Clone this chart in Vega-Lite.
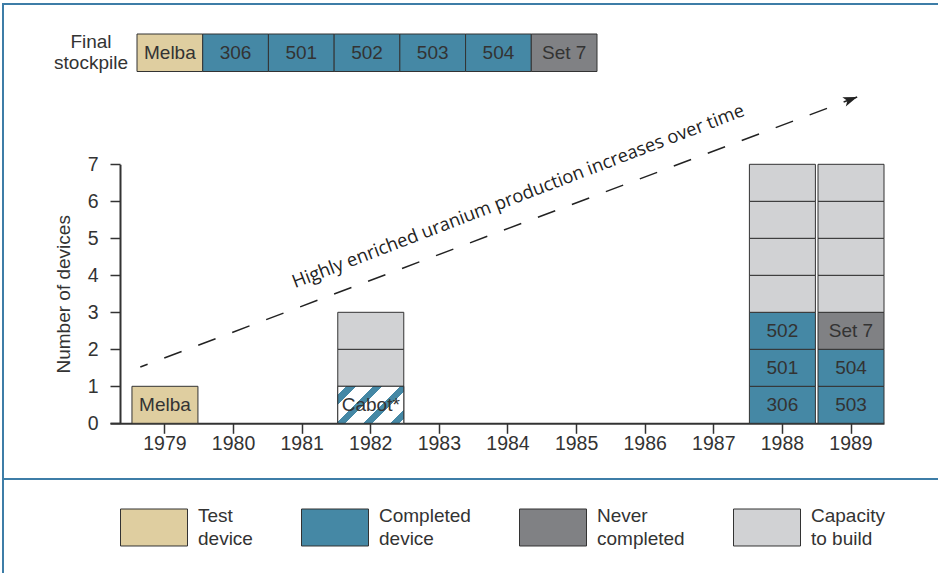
{
  "$schema": "https://vega.github.io/schema/vega-lite/v6.json",
  "width": 937,
  "height": 571,
  "autosize": {"type": "none"},
  "padding": {"left": 3, "top": 4, "right": -2, "bottom": -2},
  "background": "white",
  "config": {
    "view": {"stroke": "#3d7da7", "strokeWidth": 2},
    "axis": {"grid": false},
    "style": {"guide-label": {"lineHeight": 23}},
    "text": {"font": "Liberation Sans"}
  },
  "resolve": {"scale": {"x": "independent", "y": "independent"}},
  "layer": [
    {
      "data": {
        "values": [
          {"year": "1979", "seg": 1, "cat": "Test device", "label": "Melba"},
          {"year": "1982", "seg": 1, "cat": "Cabot", "label": "Cabot*"},
          {"year": "1982", "seg": 2, "cat": "Capacity to build", "label": ""},
          {"year": "1982", "seg": 3, "cat": "Capacity to build", "label": ""},
          {"year": "1988", "seg": 1, "cat": "Completed device", "label": "306"},
          {"year": "1988", "seg": 2, "cat": "Completed device", "label": "501"},
          {"year": "1988", "seg": 3, "cat": "Completed device", "label": "502"},
          {"year": "1988", "seg": 4, "cat": "Capacity to build", "label": ""},
          {"year": "1988", "seg": 5, "cat": "Capacity to build", "label": ""},
          {"year": "1988", "seg": 6, "cat": "Capacity to build", "label": ""},
          {"year": "1988", "seg": 7, "cat": "Capacity to build", "label": ""},
          {"year": "1989", "seg": 1, "cat": "Completed device", "label": "503"},
          {"year": "1989", "seg": 2, "cat": "Completed device", "label": "504"},
          {"year": "1989", "seg": 3, "cat": "Never completed", "label": "Set 7"},
          {"year": "1989", "seg": 4, "cat": "Capacity to build", "label": ""},
          {"year": "1989", "seg": 5, "cat": "Capacity to build", "label": ""},
          {"year": "1989", "seg": 6, "cat": "Capacity to build", "label": ""},
          {"year": "1989", "seg": 7, "cat": "Capacity to build", "label": ""}
        ]
      },
      "encoding": {
        "x": {
          "field": "year",
          "type": "ordinal",
          "scale": {
            "domain": ["1979", "1980", "1981", "1982", "1983", "1984", "1985", "1986", "1987", "1988", "1989"],
            "range": [107, 881],
            "paddingInner": 0.038,
            "paddingOuter": 0.16,
            "align": 1
          },
          "axis": {
            "orient": "bottom",
            "offset": -151.7,
            "title": null,
            "labelAngle": 0,
            "labelFont": "Liberation Sans",
            "labelFontSize": 19.5,
            "labelColor": "#333333",
            "labelPadding": 1,
            "tickSize": 10,
            "tickColor": "#333333",
            "tickWidth": 1.5,
            "domainColor": "#333333",
            "domainWidth": 2
          }
        },
        "y": {
          "aggregate": "count",
          "type": "quantitative",
          "stack": "zero",
          "scale": {"domain": [0, 7], "range": [419.3, 160.3], "nice": false, "zero": false},
          "axis": {
            "orient": "left",
            "offset": -117,
            "values": [0, 1, 2, 3, 4, 5, 6, 7],
            "title": "Number of devices",
            "titleFont": "Liberation Sans",
            "titleFontSize": 19,
            "titleFontWeight": "normal",
            "titleColor": "#333333",
            "titlePadding": 14,
            "labelFont": "Liberation Sans",
            "labelFontSize": 19.5,
            "labelColor": "#333333",
            "labelPadding": 12,
            "tickSize": 10,
            "tickColor": "#333333",
            "tickWidth": 1.5,
            "domainColor": "#333333",
            "domainWidth": 2
          }
        },
        "detail": {"field": "seg"},
        "order": {"field": "seg", "type": "quantitative"}
      },
      "layer": [
        {
          "mark": {"type": "bar", "stroke": "#333333", "strokeWidth": 1},
          "encoding": {
            "color": {
              "field": "cat",
              "type": "nominal",
              "scale": {
                "domain": ["Test device", "Completed device", "Never completed", "Capacity to build", "Cabot"],
                "range": ["#dfcea0", "#4588a5", "#808184", "#d1d2d4", "#ffffff"]
              },
              "legend": {
                "orient": "none",
                "legendX": 117,
                "legendY": 489.5,
                "direction": "horizontal",
                "title": null,
                "padding": 0,
                "values": ["Test device", "Completed device", "Never completed", "Capacity to build"],
                "symbolType": "M-1,-0.552L1,-0.552L1,0.552L-1,0.552Z",
                "symbolSize": 4489,
                "symbolStrokeColor": "#333333",
                "symbolStrokeWidth": 1,
                "symbolOpacity": 1,
                "labelFont": "Liberation Sans",
                "labelFontSize": 19,
                "labelColor": "#333333",
                "labelOffset": 10,
                "labelLimit": 0,
                "labelBaseline": "line-bottom",
                "columnPadding": 46,
                "labelExpr": "[slice(datum.label, 0, indexof(datum.label, ' ')), slice(datum.label, indexof(datum.label, ' ') + 1)]"
              }
            }
          }
        },
        {
          "transform": [{"filter": "datum.cat === 'Cabot'"}],
          "mark": {
            "type": "bar",
            "stroke": "#333333",
            "strokeWidth": 1,
            "fill": {
              "gradient": "linear",
              "x1": 0, "y1": 0, "x2": 1.188, "y2": 0.665,
              "stops": [
                {"offset": 0, "color": "#ffffff"},
                {"offset": 0.085, "color": "#ffffff"},
                {"offset": 0.085, "color": "#4588a5"},
                {"offset": 0.175, "color": "#4588a5"},
                {"offset": 0.175, "color": "#ffffff"},
                {"offset": 0.345, "color": "#ffffff"},
                {"offset": 0.345, "color": "#4588a5"},
                {"offset": 0.435, "color": "#4588a5"},
                {"offset": 0.435, "color": "#ffffff"},
                {"offset": 0.605, "color": "#ffffff"},
                {"offset": 0.605, "color": "#4588a5"},
                {"offset": 0.695, "color": "#4588a5"},
                {"offset": 0.695, "color": "#ffffff"},
                {"offset": 0.865, "color": "#ffffff"},
                {"offset": 0.865, "color": "#4588a5"},
                {"offset": 0.955, "color": "#4588a5"},
                {"offset": 0.955, "color": "#ffffff"},
                {"offset": 1, "color": "#ffffff"}
              ]
            }
          }
        },
        {
          "mark": {"type": "text", "font": "Liberation Sans", "fontSize": 19, "color": "#333333", "baseline": "middle", "dy": 18.5},
          "encoding": {"text": {"field": "label"}}
        }
      ]
    },
    {
      "data": {
        "values": [
          {"name": "Melba", "cat": "Test device", "row": "Final stockpile"},
          {"name": "306", "cat": "Completed device", "row": "Final stockpile"},
          {"name": "501", "cat": "Completed device", "row": "Final stockpile"},
          {"name": "502", "cat": "Completed device", "row": "Final stockpile"},
          {"name": "503", "cat": "Completed device", "row": "Final stockpile"},
          {"name": "504", "cat": "Completed device", "row": "Final stockpile"},
          {"name": "Set 7", "cat": "Never completed", "row": "Final stockpile"}
        ]
      },
      "encoding": {
        "x": {
          "field": "name",
          "type": "nominal",
          "scale": {"domain": ["Melba", "306", "501", "502", "503", "504", "Set 7"], "range": [134, 594], "paddingInner": 0, "paddingOuter": 0},
          "axis": null
        },
        "y": {
          "field": "row",
          "type": "nominal",
          "scale": {"range": [30, 67.5], "paddingInner": 0, "paddingOuter": 0},
          "axis": {
            "orient": "left",
            "offset": -134,
            "title": null,
            "domain": false,
            "ticks": false,
            "tickSize": 0,
            "labelPadding": 46.5,
            "labelAlign": "center",
            "labelBaseline": "middle",
            "labelOffset": -11,
            "labelFont": "Liberation Sans",
            "labelFontSize": 19,
            "labelColor": "#333333",
            "labelLineHeight": 21.7,
            "labelExpr": "split(datum.label, ' ')"
          }
        }
      },
      "layer": [
        {
          "mark": {"type": "bar", "stroke": "#333333", "strokeWidth": 1},
          "encoding": {
            "color": {
              "field": "cat",
              "type": "nominal",
              "scale": {
                "domain": ["Test device", "Completed device", "Never completed", "Capacity to build", "Cabot"],
                "range": ["#dfcea0", "#4588a5", "#808184", "#d1d2d4", "#ffffff"]
              }
            }
          }
        },
        {
          "mark": {"type": "text", "font": "Liberation Sans", "fontSize": 19, "color": "#333333", "baseline": "middle"},
          "encoding": {"text": {"field": "name"}}
        }
      ]
    },
    {
      "layer": [
        {
          "data": {"values": [{"year": 1978.64, "devices": 1.52}, {"year": 1989.09, "devices": 8.82}]},
          "mark": {"type": "line", "color": "#222222", "strokeWidth": 1.5, "strokeDash": [18.5, 17.8], "strokeDashOffset": 10.7},
          "encoding": {
            "x": {"field": "year", "type": "quantitative", "scale": {"domain": [1979, 1989], "range": [162, 848], "zero": false, "nice": false}, "axis": null},
            "y": {"field": "devices", "type": "quantitative", "scale": {"domain": [0, 7], "range": [419.3, 160.3], "zero": false, "nice": false}, "axis": null}
          }
        },
        {
          "data": {"values": [{"year": 1989.09, "devices": 8.82}]},
          "mark": {"type": "point", "shape": "M0,0L-2,-0.7L-1.5,0L-2,0.7Z", "size": 196, "angle": -20.7, "filled": true, "color": "#222222", "opacity": 1},
          "encoding": {
            "x": {"field": "year", "type": "quantitative", "axis": null},
            "y": {"field": "devices", "type": "quantitative", "axis": null}
          }
        },
        {
          "data": {"values": [{"year": 1980.895, "devices": 3.649, "note": "Highly enriched uranium production increases over time"}]},
          "mark": {"type": "text", "angle": -21, "align": "left", "baseline": "alphabetic", "font": "Open Sans", "fontSize": 18.4, "color": "#222222"},
          "encoding": {
            "x": {"field": "year", "type": "quantitative", "axis": null},
            "y": {"field": "devices", "type": "quantitative", "axis": null},
            "text": {"field": "note"}
          }
        },
        {
          "data": {"values": [{}]},
          "mark": {"type": "rule", "color": "#3d7da7", "strokeWidth": 2},
          "encoding": {"y": {"datum": -1.505, "type": "quantitative"}}
        }
      ]
    }
  ]
}
